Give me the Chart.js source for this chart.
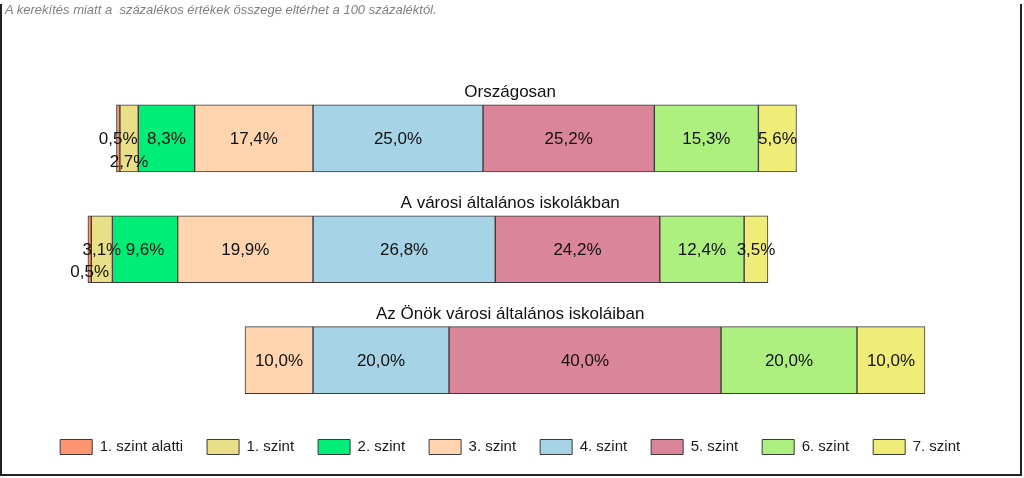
<!DOCTYPE html>
<html lang="hu">
<head>
<meta charset="UTF-8">
<title>Szintek megoszlása</title>
<script src="https://cdn.jsdelivr.net/npm/chart.js"></script>
<style>
    body {
        margin: 0;
        background: #fff;
        font-family: 'Liberation Sans', Arial, sans-serif;
    }
    .wrap {
        position: relative;
        width: 1024px;
        height: 478px;
    }
    .frame {
        position: absolute;
        left: 0; top: 4px;
        width: 1018px; height: 470px;
        border-left: 2px solid #222;
        border-right: 2px solid #222;
        border-bottom: 2px solid #222;
        pointer-events: none;
    }
    .note {
        position: absolute;
        left: 5px; top: 2px;
        font-size: 13px;
        font-style: italic;
        color: #808080;
        white-space: pre;
    }
</style>
</head>
<body>
<div class="wrap">
    <canvas id="chart" width="1024" height="478"></canvas>
    <div class="note">A kerekítés miatt a  százalékos értékek összege eltérhet a 100 százaléktól.</div>
    <div class="frame"></div>
</div>

<script>
    // rows (top to bottom)
    const groups = ['Országosan', 'A városi általános iskolákban', 'Az Önök városi általános iskoláiban'];

    // levels, in legend order
    const levels = ['1. szint alatti', '1. szint', '2. szint', '3. szint', '4. szint', '5. szint', '6. szint', '7. szint'];
    const levelColors = ['#FF9472', '#E9DF86', '#00EE78', '#FFD4AF', '#A6D3E5', '#DA8599', '#AEF080', '#F0EC78'];

    // percentages per level, one value per row
    const below1 = [0.5, 0.5, 0];
    const level1 = [2.7, 3.1, 0];
    const level2 = [8.3, 9.6, 0];
    const level3 = [17.4, 19.9, 10.0];
    const level4 = [25.0, 26.8, 20.0];
    const level5 = [25.2, 24.2, 40.0];
    const level6 = [15.3, 12.4, 20.0];
    const level7 = [5.6, 3.5, 10.0];

    const values = [below1, level1, level2, level3, level4, level5, level6, level7];

    // levels below 4. szint go to the left of zero, the rest to the right
    function spans(row) {
        let start = 0;
        for (let k = 0; k < 4; k++) start -= values[k][row];
        return values.map(v => {
            const seg = [start, start + v[row]];
            start += v[row];
            return v[row] > 0 ? seg : null;
        });
    }
    const rowSpans = groups.map((g, r) => spans(r));

    const datasets = levels.map((name, k) => ({
        label: name,
        data: groups.map((g, r) => rowSpans[r][k]),
        backgroundColor: levelColors[k],
        borderColor: '#3a3a3a',
        borderWidth: 1,
        borderSkipped: false,
        grouped: false,
        barThickness: 67
    }));

    // vertical nudges for labels that would overlap (row-dataset)
    const labelShift = { '0-1': 23, '1-0': 22 };

    const fmt = v => v.toFixed(1).replace('.', ',') + '%';

    const labelPlugin = {
        id: 'segLabels',
        afterDatasetsDraw(chart) {
            const ctx = chart.ctx;
            const area = chart.chartArea;
            ctx.save();
            ctx.fillStyle = '#111';
            ctx.textAlign = 'center';
            ctx.textBaseline = 'middle';
            ctx.font = "17px 'Liberation Sans', Arial, sans-serif";
            chart.data.datasets.forEach((ds, k) => {
                const meta = chart.getDatasetMeta(k);
                meta.data.forEach((bar, r) => {
                    const v = values[k][r];
                    if (!v) return;
                    const cx = (bar.x + bar.base) / 2;
                    const cy = bar.y + (labelShift[r + '-' + k] || 0);
                    ctx.fillText(fmt(v), cx, cy + 1);
                });
            });
            // group titles above each bar
            ctx.textBaseline = 'alphabetic';
            const meta0 = chart.getDatasetMeta(4);
            meta0.data.forEach((bar, r) => {
                ctx.fillText(groups[r], (area.left + area.right) / 2, bar.y - bar.height / 2 - 8);
            });
            ctx.restore();
        }
    };

    new Chart(document.getElementById('chart'), {
        type: 'bar',
        data: { labels: groups, datasets: datasets },
        options: {
            indexAxis: 'y',
            responsive: false,
            animation: false,
            layout: { padding: { left: 7, right: 10.6, top: 83, bottom: 13.5 } },
            scales: {
                x: { type: 'linear', min: -45, max: 103, display: false },
                y: { display: false }
            },
            plugins: {
                tooltip: { enabled: false },
                legend: {
                    position: 'bottom',
                    labels: {
                        boxWidth: 32,
                        boxHeight: 15,
                        padding: 24,
                        color: '#1a1a1a',
                        font: { size: 15, family: "'Liberation Sans', Arial, sans-serif" }
                    }
                }
            }
        },
        plugins: [labelPlugin]
    });
</script>
</body>
</html>
